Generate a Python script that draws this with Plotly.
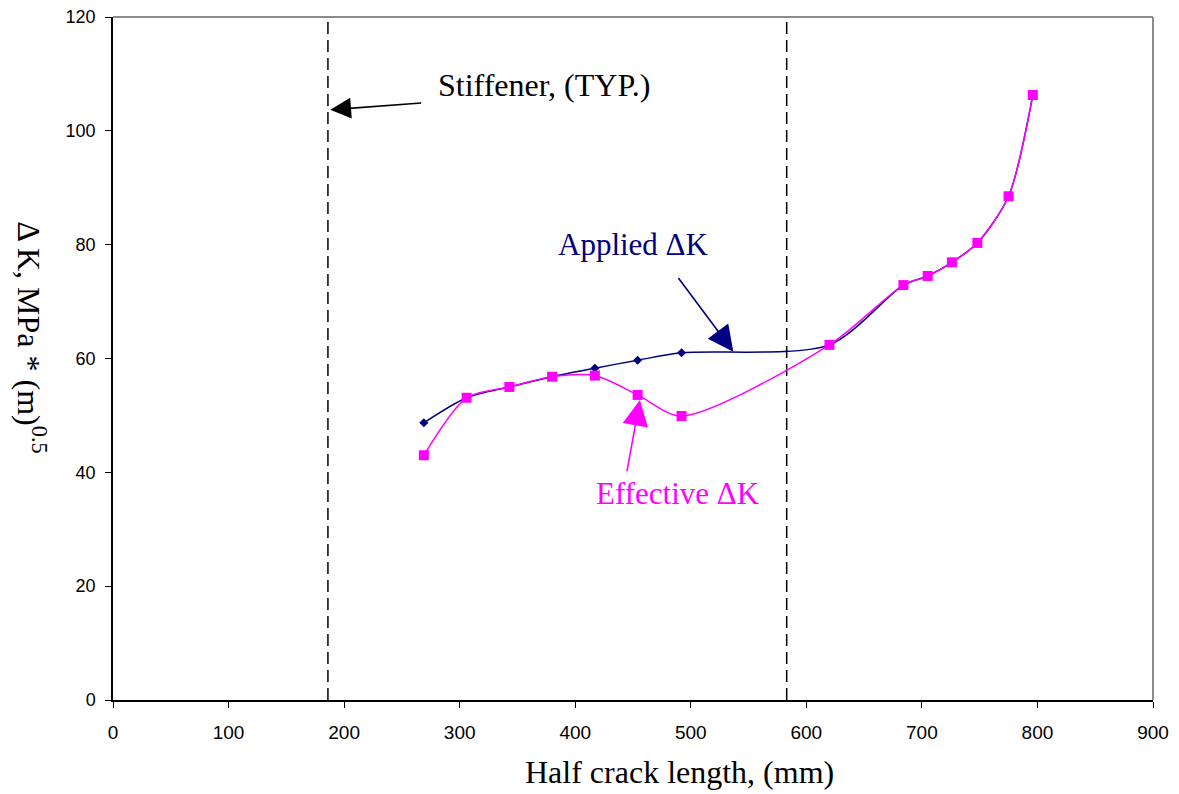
import plotly.graph_objects as go

# Applied ΔK (navy, diamonds)
applied_x = [269, 306, 343, 380, 417, 454, 492, 620, 684, 705, 726, 748, 775, 796]
applied_y = [48.7, 53.1, 55.0, 56.8, 58.3, 59.7, 61.0, 62.4, 72.9, 74.5, 76.9, 80.3, 88.5, 106.3]

# Effective ΔK (magenta, squares)
effective_x = [269, 306, 343, 380, 417, 454, 492, 620, 684, 705, 726, 748, 775, 796]
effective_y = [43.0, 53.1, 55.0, 56.8, 57.0, 53.6, 49.9, 62.4, 72.9, 74.5, 76.9, 80.3, 88.5, 106.3]

# Stiffener positions
stiffener_x = [186, 583]

x_ticks = [0, 100, 200, 300, 400, 500, 600, 700, 800, 900]
y_ticks = [0, 20, 40, 60, 80, 100, 120]

SERIF = "Liberation Serif, Times New Roman, serif"
SANS = "Liberation Sans, Arial, sans-serif"
NAVY = "#000080"
MAGENTA = "#FF00FF"

fig = go.Figure()

for sx in stiffener_x:
    fig.add_trace(go.Scatter(x=[sx, sx], y=[0, 120], mode="lines",
                             line=dict(color="black", width=1.5, dash="12px,6px"),
                             showlegend=False, hoverinfo="skip"))

fig.add_trace(go.Scatter(x=applied_x, y=applied_y, mode="lines+markers",
                         line=dict(color=NAVY, width=1.5, shape="spline", smoothing=0.8),
                         marker=dict(symbol="diamond", size=7, color=NAVY),
                         name="Applied ΔK", showlegend=False))
fig.add_trace(go.Scatter(x=effective_x, y=effective_y, mode="lines+markers",
                         line=dict(color=MAGENTA, width=1.5, shape="spline", smoothing=0.8),
                         marker=dict(symbol="square", size=10, color=MAGENTA),
                         name="Effective ΔK", showlegend=False))

annotations = [
    # axis titles
    dict(x=0.545, y=-0.105, xref="paper", yref="paper", text="Half crack length, (mm)",
         showarrow=False, xanchor="center", yanchor="middle",
         font=dict(family=SERIF, size=32, color="black")),
    dict(x=-0.078, y=0.53, xref="paper", yref="paper", text="Δ K, MPa * (m)<sup>0.5</sup>",
         showarrow=False, textangle=90, xanchor="center", yanchor="middle",
         font=dict(family=SERIF, size=32, color="black")),
    # text labels
    dict(x=373, y=108, xref="x", yref="y", text="Stiffener, (TYP.)", showarrow=False,
         font=dict(family=SERIF, size=32, color="black")),
    dict(x=450, y=80.1, xref="x", yref="y", text="Applied ΔK", showarrow=False,
         font=dict(family=SERIF, size=31, color=NAVY)),
    dict(x=489, y=36.2, xref="x", yref="y", text="Effective ΔK", showarrow=False,
         font=dict(family=SERIF, size=31, color=MAGENTA)),
    # arrows
    dict(x=188, y=103.7, ax=268, ay=104.9, xref="x", yref="y", axref="x", ayref="y",
         text="", showarrow=True, arrowhead=2, arrowsize=2.6, arrowwidth=1.6, arrowcolor="black"),
    dict(x=536.8, y=61.2, ax=488.3, ay=74.4, xref="x", yref="y", axref="x", ayref="y",
         text="", showarrow=True, arrowhead=2, arrowsize=3.2, arrowwidth=1.6, arrowcolor=NAVY),
    dict(x=456, y=52.7, ax=444.5, ay=39.9, xref="x", yref="y", axref="x", ayref="y",
         text="", showarrow=True, arrowhead=2, arrowsize=3.2, arrowwidth=1.6, arrowcolor=MAGENTA),
]

fig.update_layout(
    width=1179, height=794,
    margin=dict(l=105, r=34, t=9, b=102),
    plot_bgcolor="white", paper_bgcolor="white",
    annotations=annotations,
    shapes=[
        dict(type="line", xref="paper", yref="paper", x0=0, x1=1, y0=1, y1=1,
             line=dict(color="#8c8c8c", width=2), layer="above"),
        dict(type="line", xref="paper", yref="paper", x0=1, x1=1, y0=0, y1=1,
             line=dict(color="#8c8c8c", width=2), layer="above"),
    ],
)

fig.update_xaxes(range=[0, 900], tickvals=x_ticks, ticktext=[str(v) for v in x_ticks],
                 automargin=False, ticklabeloverflow="allow", ticklabelstandoff=8,
                 showgrid=False, zeroline=False, showline=True, linecolor="black", linewidth=1.5,
                 ticks="outside", ticklen=6, tickcolor="black", tickwidth=1,
                 tickfont=dict(family=SANS, size=19, color="black"))
fig.update_yaxes(range=[0, 120], tickvals=y_ticks, ticktext=[str(v) for v in y_ticks],
                 automargin=False, ticklabeloverflow="allow", ticklabelstandoff=6,
                 showgrid=False, zeroline=False, showline=True, linecolor="black", linewidth=1.5,
                 ticks="outside", ticklen=6, tickcolor="black", tickwidth=1,
                 tickfont=dict(family=SANS, size=18, color="black"))

fig.write_html("out.html")
